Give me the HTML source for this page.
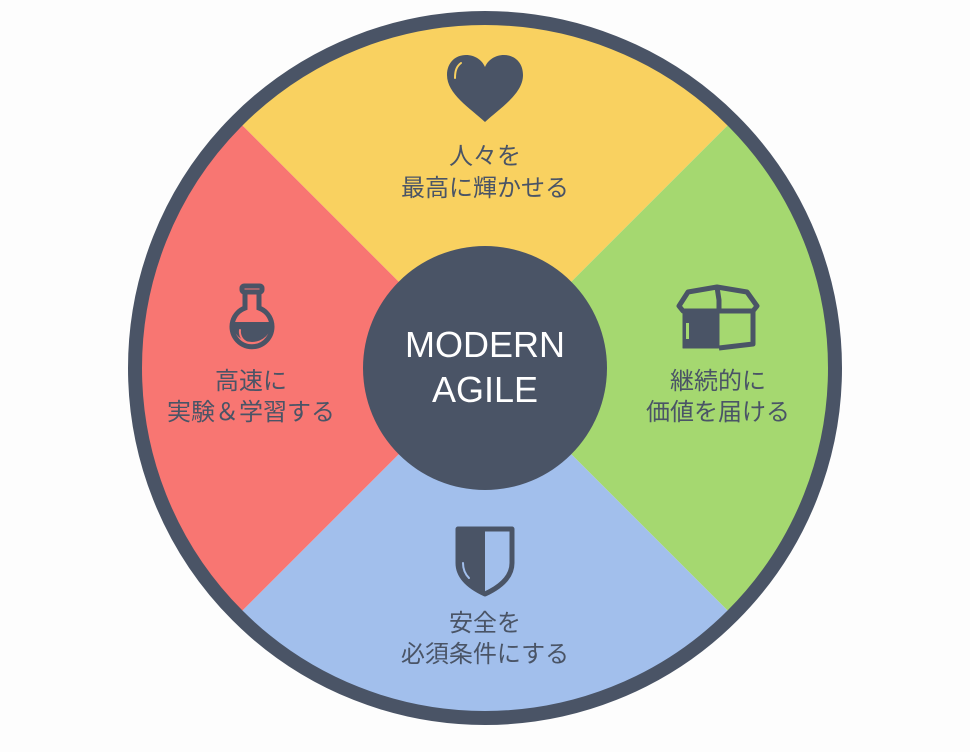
<!DOCTYPE html>
<html><head><meta charset="utf-8"><style>
html,body{margin:0;padding:0;background:#fdfdfd;}
svg{display:block}
text{font-family:"Liberation Sans","Noto Sans CJK JP",sans-serif;}
</style></head><body>
<svg width="970" height="752" viewBox="0 0 970 752" xmlns="http://www.w3.org/2000/svg">
<rect width="970" height="752" fill="#fdfdfd"/>
<g transform="translate(485,368)">
<clipPath id="c"><circle r="345"/></clipPath>
<g clip-path="url(#c)">
<polygon points="0,0 -400,-400 400,-400" fill="#f9d160"/>
<polygon points="0,0 400,-400 400,400" fill="#a5d870"/>
<polygon points="0,0 400,400 -400,400" fill="#a2bfec"/>
<polygon points="0,0 -400,400 -400,-400" fill="#f87672"/>
</g>
<circle r="350" fill="none" stroke="#4a5466" stroke-width="14"/>
<circle r="122" fill="#4a5466"/>
<text x="0" y="-11" text-anchor="middle" font-size="36" fill="#fff">MODERN</text>
<text x="0" y="34" text-anchor="middle" font-size="36" fill="#fff">AGILE</text>
</g>
<path d="M485,122 C470,108 447,94 447,75 C447,62 456,55 466,55 C475,55 482,60 485,67 C488,60 495,55 504,55 C514,55 523,62 523,75 C523,94 500,108 485,122 Z" fill="#4a5466"/>
<path d="M455,78 C455,70 457,66 461,63" stroke="#f9d160" stroke-width="2" fill="none" stroke-linecap="round"/>
<g fill="#4a5466" font-size="24" text-anchor="middle">
<text x="485" y="164">人々を</text>
<text x="485" y="196">最高に輝かせる</text>
<text x="718" y="389">継続的に</text>
<text x="718" y="420">価値を届ける</text>
<text x="251" y="389">高速に</text>
<text x="251" y="420">実験＆学習する</text>
<text x="485" y="631">安全を</text>
<text x="485" y="662">必須条件にする</text>
</g>
<g fill="#4a5466" stroke="#4a5466" stroke-linejoin="round">
<path d="M683,311 L719,311 L719,348 L683,348 Z" stroke-width="1"/>
<path d="M719,311 L753,311 L753,344 L719,348" fill="none" stroke-width="5"/>
<path d="M679,306 L688,292 L717,287 L719,300 L719,311 L683,311 Z M717,287 L747,292 L757,306 L753,311 L719,311" fill="none" stroke-width="5"/>
</g>
<rect x="686" y="323" width="3" height="16" fill="#a5d870"/>
<g stroke="#4a5466" stroke-width="5" fill="none">
<rect x="242" y="286" width="20" height="6" rx="2"/>
<path d="M245,292 L245,308 A20,20 0 1 0 259,308 L259,292"/>
</g>
<path d="M232,322 L272,322 A20,20 0 0 1 232,322 Z" fill="#4a5466"/>
<path d="M240,330 A12,12 0 0 0 246,342" stroke="#f87672" stroke-width="2" fill="none" stroke-linecap="round"/>
<path d="M458,529 L512,529 L512,563 C512,578 498,588 485,594 C472,588 458,578 458,563 Z" fill="#a2bfec" stroke="#4a5466" stroke-width="5" stroke-linejoin="round"/>
<path d="M458,529 L485,529 L485,594 C472,588 458,578 458,563 Z" fill="#4a5466"/>
<path d="M463,563 C463,570 466,575 469,578" stroke="#a2bfec" stroke-width="2" fill="none" stroke-linecap="round"/>
</svg>
</body></html>
